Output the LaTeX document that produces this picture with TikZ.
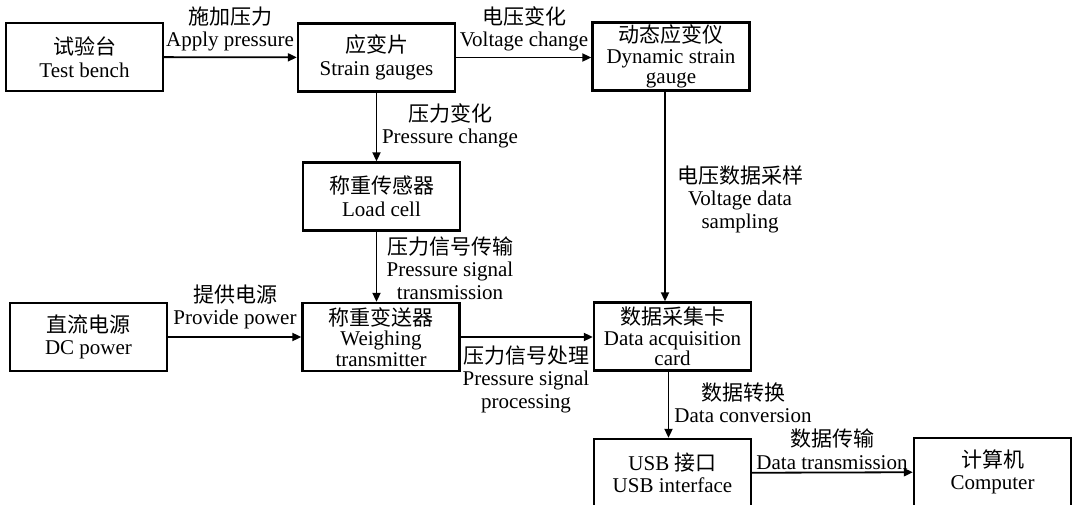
\documentclass[tikz,border=0pt]{standalone}
\usepackage{fontspec}
\setmainfont{Liberation Serif}
\newfontfamily\cjk{Noto Sans CJK SC}
\usetikzlibrary{arrows.meta}
\begin{document}
\begin{tikzpicture}[
x=1pt,y=-1pt,
every node/.style={font=\fontsize{21}{22.5}\selectfont,align=center,inner sep=0pt},
box/.style={draw,line width=2.3pt,minimum width=157pt,minimum height=68pt},
tight/.style={font=\fontsize{21}{20.5}\selectfont},
link/.style={->,line width=1.8pt},
>={Triangle[length=9pt,width=8pt]}
]
\useasboundingbox (0,0) rectangle (1074,505);
% blocks
\node[box] (bench) at (84.5,57) {{\cjk 试验台}\\Test bench};
\node[box] (gauge) at (376.5,57.5) {{\cjk 应变片}\\Strain gauges};
\node[box,tight] (dyn) at (671,56.5) {{\cjk 动态应变仪}\\Dynamic strain\\gauge};
\node[box] (load) at (381.5,196.5) {{\cjk 称重传感器}\\Load cell};
\node[box] (power) at (88.5,337) {{\cjk 直流电源}\\DC power};
\node[box,tight] (trans) at (381,337) {{\cjk 称重变送器}\\Weighing\\transmitter};
\node[box,tight] (daq) at (672.5,336.5) {{\cjk 数据采集卡}\\Data acquisition\\card};
\node[box] (usb) at (672.5,473) {USB {\cjk 接口}\\USB interface};
\node[box] (pc) at (992.5,472) {{\cjk 计算机}\\Computer};
% labels
\node (lapply) at (230,29) {{\cjk 施加压力}\\Apply pressure};
\node (lvolt) at (524,29) {{\cjk 电压变化}\\Voltage change};
\node (lpchange) at (450,126) {{\cjk 压力变化}\\Pressure change};
\node (lpsig) at (450,268) {{\cjk 压力信号传输}\\Pressure signal\\transmission};
\node (lpower) at (235,307) {{\cjk 提供电源}\\Provide power};
\node (lproc) at (526,379) {{\cjk 压力信号处理}\\Pressure signal\\processing};
\node (lsample) at (740,199) {{\cjk 电压数据采样}\\Voltage data\\sampling};
\node (lconv) at (743,403) {{\cjk 数据转换}\\Data conversion};
\node (lsend) at (832,449) {{\cjk 数据传输}\\Data transmission};
% connectors
\draw[link] (bench) -- (gauge);
\draw[link] (gauge.east) -- (gauge.east -| dyn.west);
\draw[link] (gauge.south) -- (gauge.south |- load.north);
\draw[link] (load.south -| gauge.south) -- (trans.north -| gauge.south);
\draw[link] (power) -- (trans);
\draw[link] (trans.east) -- (trans.east -| daq.west);
\draw[link] ([xshift=-6pt]dyn.south) -- ([xshift=-6pt]dyn.south |- daq.north);
\draw[link] ([xshift=-4pt]daq.south) -- ([xshift=-4pt]daq.south |- usb.north);
\draw[link] (usb) -- (pc);
\end{tikzpicture}
\end{document}
